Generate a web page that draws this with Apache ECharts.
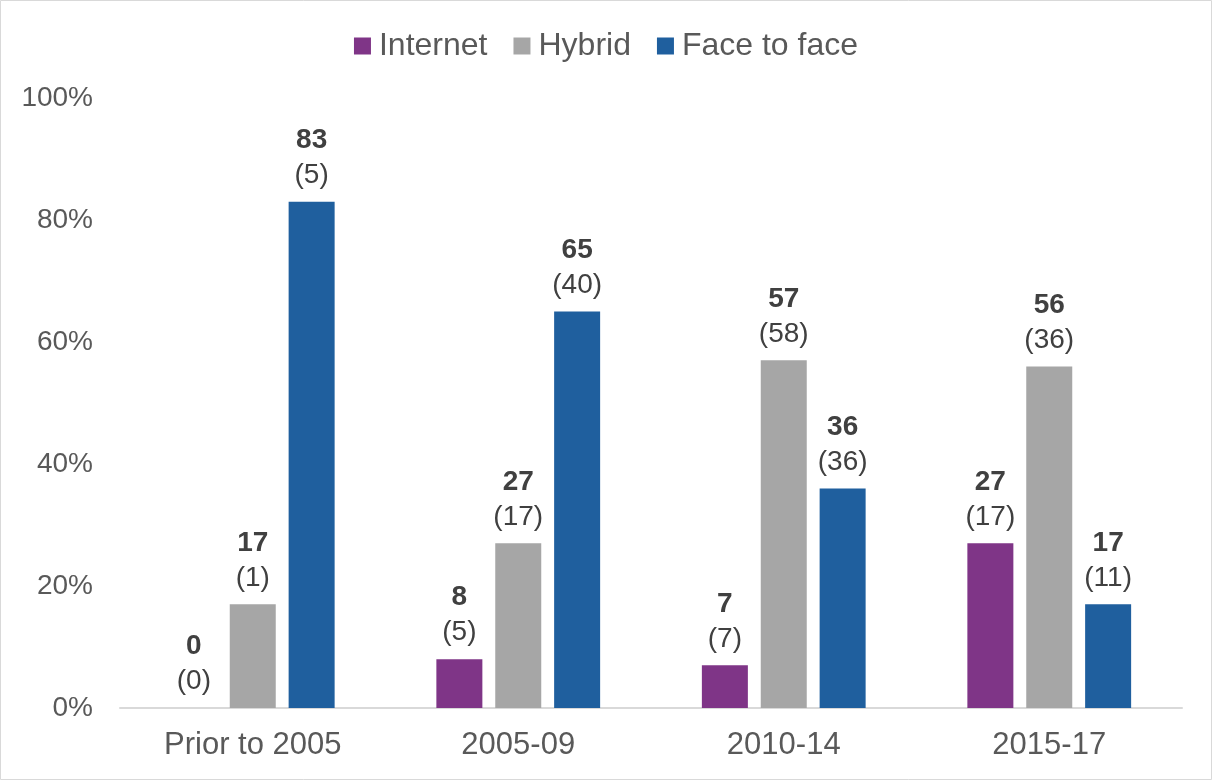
<!DOCTYPE html>
<html>
<head>
<meta charset="utf-8">
<script src="https://cdn.jsdelivr.net/npm/echarts@6/dist/echarts.min.js"></script>
<style>
  html, body { margin: 0; padding: 0; background: #fff; }
  #chart { width: 1212px; height: 780px; }
</style>
</head>
<body>
<div id="chart"></div>
<script>
// Share of courses by delivery mode, per period (%), with counts in brackets
const categories = ['Prior to 2005', '2005-09', '2010-14', '2015-17'];
const internetPct = [0, 8, 7, 27];
const hybridPct = [17, 27, 57, 56];
const facePct = [83, 65, 36, 17];
const internetCount = [0, 5, 7, 17];
const hybridCount = [1, 17, 58, 36];
const faceCount = [5, 40, 36, 11];
const yTicks = [0, 20, 40, 60, 80, 100];

const FONT = '"Liberation Sans", Arial, sans-serif';

function makeSeries(name, values, counts, color) {
  return {
    name: name,
    type: 'bar',
    data: values.map((v, i) => ({ value: v, count: counts[i] })),
    barWidth: 46,
    barGap: '28%',
    itemStyle: { color: color },
    label: {
      show: true,
      position: 'top',
      distance: 9,
      formatter: p => '{v|' + p.value + '}\n{n|(' + p.data.count + ')}',
      rich: {
        v: { fontFamily: FONT, fontSize: 28, fontWeight: 'bold', color: '#404040', lineHeight: 35 },
        n: { fontFamily: FONT, fontSize: 28, color: '#404040', lineHeight: 35 }
      }
    }
  };
}

const chart = echarts.init(document.getElementById('chart'), null, { renderer: 'canvas' });
chart.setOption({
  animation: false,
  backgroundColor: '#ffffff',
  graphic: [{
    type: 'rect',
    shape: { x: 0.5, y: 0.5, width: 1211, height: 779 },
    style: { fill: 'none', stroke: '#D9D9D9', lineWidth: 1 },
    silent: true
  }],
  legend: {
    top: 25,
    left: 'center',
    itemWidth: 17,
    itemHeight: 17,
    itemGap: 26,
    icon: 'rect',
    textStyle: { fontFamily: FONT, fontSize: 32, color: '#595959', padding: [0, 0, 0, 3] },
    data: ['Internet', 'Hybrid', 'Face to face']
  },
  grid: { left: 120, right: 30, top: 98, bottom: 72, containLabel: false },
  xAxis: {
    type: 'category',
    data: categories,
    axisLine: { show: true, lineStyle: { color: '#D9D9D9', width: 2 } },
    axisTick: { show: false },
    axisLabel: { fontFamily: FONT, fontSize: 31, color: '#595959', margin: 22 }
  },
  yAxis: {
    type: 'value',
    min: yTicks[0],
    max: yTicks[yTicks.length - 1],
    interval: 20,
    axisLine: { show: false },
    axisTick: { show: false },
    splitLine: { show: false },
    axisLabel: { fontFamily: FONT, fontSize: 28, color: '#595959', margin: 27, formatter: v => v + '%' }
  },
  series: [
    makeSeries('Internet', internetPct, internetCount, '#7F3587'),
    makeSeries('Hybrid', hybridPct, hybridCount, '#A6A6A6'),
    makeSeries('Face to face', facePct, faceCount, '#1F5F9E')
  ]
});
</script>
</body>
</html>
